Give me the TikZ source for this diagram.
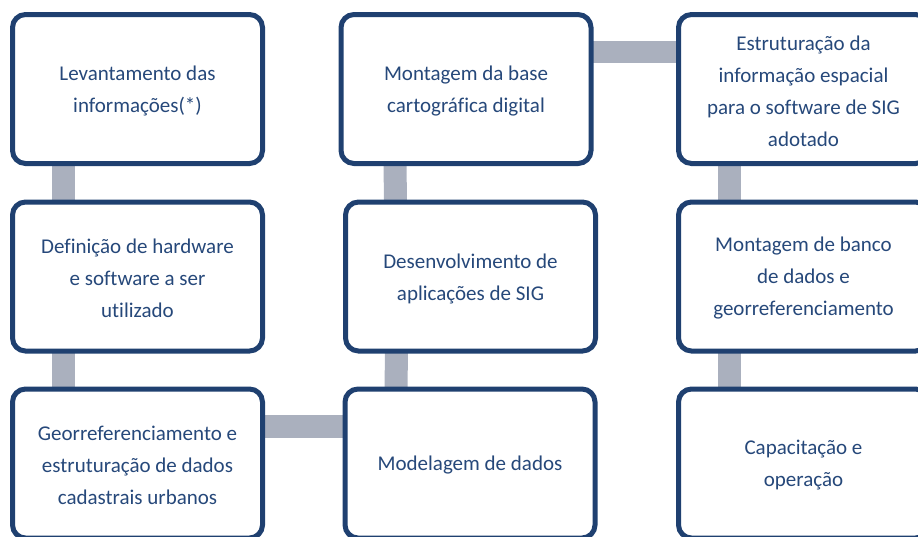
\documentclass[tikz,border=0pt]{standalone}
\usepackage{fontspec}
\setmainfont{Carlito}[Ligatures=NoCommon]
\usetikzlibrary{backgrounds}
\definecolor{boxborder}{RGB}{31,64,112}
\definecolor{boxtext}{RGB}{38,72,122}
\definecolor{connector}{RGB}{170,176,190}
\begin{document}
\begin{tikzpicture}[x=1pt,y=-1pt,
  stepbox/.style={draw=boxborder, line width=5pt, rounded corners=13pt, fill=white,
    minimum width=250pt, minimum height=149pt, inner sep=0pt, outer sep=0pt},
  steptext/.style={align=center, text=boxtext, inner sep=0pt, yshift=-2pt,
    font=\fontsize{21pt}{32pt}\selectfont},
  conn/.style={draw=connector, line width=23pt}]
\clip (0,0) rectangle (918,536);
\node[stepbox, label={[steptext]center:{Levantamento das\\informações(*)}}] (b1) at (137.5,89) {};
\node[stepbox, label={[steptext]center:{Definição de hardware\\e software a ser\\utilizado}}] (b2) at (137.5,276.5) {};
\node[stepbox, label={[steptext]center:{Georreferenciamento e\\estruturação de dados\\cadastrais urbanos}}] (b3) at (137.5,463.5) {};
\node[stepbox, label={[steptext]center:{Modelagem de dados}}] (b4) at (470,463.5) {};
\node[stepbox, label={[steptext]center:{Desenvolvimento de\\aplicações de SIG}}] (b5) at (470.5,276.5) {};
\node[stepbox, label={[steptext]center:{Montagem da base\\cartográfica digital}}] (b6) at (466,89) {};
\node[stepbox, label={[steptext]center:{Estruturação da\\informação espacial\\para o software de SIG\\adotado}}] (b7) at (803.5,89) {};
\node[stepbox, label={[steptext]center:{Montagem de banco\\de dados e\\georreferenciamento}}] (b8) at (803.5,276.5) {};
\node[stepbox, label={[steptext]center:{Capacitação e\\operação}}] (b9) at (803.5,463.5) {};
\begin{scope}[on background layer]
\draw[conn] ([xshift=51pt]b1.south west) -- ([xshift=51pt]b2.north west);
\draw[conn] ([xshift=51pt]b2.south west) -- ([xshift=51pt]b3.north west);
\draw[conn] ([yshift=-37pt]b3.north east) -- ([yshift=-37pt]b4.north west);
\draw[conn] ([xshift=51pt]b4.north west) -- ([xshift=51pt]b5.south west);
\draw[conn] ([xshift=50pt]b5.north west) -- ([xshift=54pt]b6.south west);
\draw[conn, line width=22pt] ([yshift=-37pt]b6.north east) -- ([yshift=-37pt]b7.north west);
\draw[conn] ([xshift=51pt]b7.south west) -- ([xshift=51pt]b8.north west);
\draw[conn] ([xshift=51pt]b8.south west) -- ([xshift=51pt]b9.north west);
\end{scope}
\end{tikzpicture}
\end{document}
